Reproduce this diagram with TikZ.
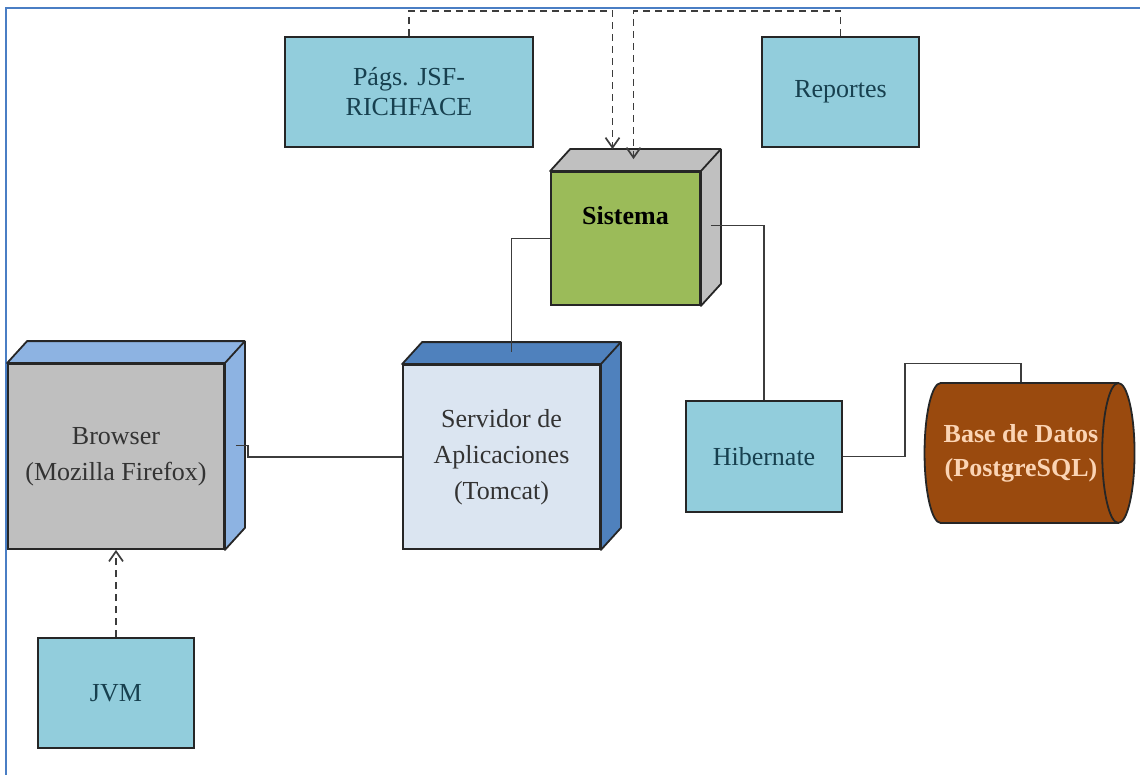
\documentclass[tikz,border=0pt]{standalone}
\usepackage{fontspec}
\setmainfont{Liberation Serif}
\usetikzlibrary{shapes.geometric,arrows.meta}

\definecolor{celeste}{HTML}{92CDDC}
\definecolor{textoceleste}{HTML}{17404F}
\definecolor{grisnav}{HTML}{BFBFBF}
\definecolor{azulnav}{HTML}{8DB3E2}
\definecolor{frenteserv}{HTML}{DBE5F1}
\definecolor{azulserv}{HTML}{4F81BD}
\definecolor{verdesis}{HTML}{9BBB59}
\definecolor{grissis}{HTML}{C0C0C0}
\definecolor{marronbd}{HTML}{9A4A0E}
\definecolor{textobd}{HTML}{FBD4B4}
\definecolor{borde}{HTML}{262626}
\definecolor{azulmarco}{HTML}{4A7EC4}

\begin{document}
\begin{tikzpicture}[x=0.5pt,y=-0.5pt,
        >={Straight Barb[length=5pt,width=7pt]},
        caja/.style={draw=borde,line width=0.9pt,fill=celeste,text=textoceleste,
            font=\fontsize{13}{15}\selectfont,align=center,inner sep=0pt},
        frente/.style={draw=borde,line width=0.9pt,font=\fontsize{13}{15}\selectfont,
            align=center,inner sep=0pt},
        linea/.style={borde!90,line width=0.85pt},
        dep/.style={linea,dash pattern=on 3.5pt off 2.5pt,->}]
        \useasboundingbox (0,0) rectangle (1140,775);
        % Marco
        \draw[azulmarco,line width=1.2pt] (6,775) -- (6,8) -- (1140,8);
        \coordinate (arriba) at (0,11);
        % Cajas simples
        \node[caja,minimum width=124pt,minimum height=55pt] (pags) at (409,92) {Págs. JSF-\\RICHFACE};
        \node[caja,minimum width=78.5pt,minimum height=55pt] (rep) at (840.5,92) {Reportes};
        \node[caja,minimum width=78pt,minimum height=55.5pt] (hib) at (764,456.5) {Hibernate};
        \node[caja,minimum width=78pt,minimum height=55pt] (jvm) at (116,693) {JVM};
        % Nodos 3D
        \node[frente,fill=verdesis,font=\fontsize{13}{15}\selectfont\bfseries,
            minimum width=74.5pt,minimum height=66.5pt,text depth=23pt] (sis) at (625.5,238.5) {Sistema};
        \node[frente,fill=grisnav,text=black!80,minimum width=108pt,minimum height=92.5pt]
            (nav) at (116,456.5) {Browser\\[3pt](Mozilla Firefox)};
        \node[frente,fill=frenteserv,text=black!80,minimum width=98.5pt,minimum height=92pt]
            (serv) at (501.5,457) {Servidor de\\[3pt]Aplicaciones\\[3pt](Tomcat)};
        \foreach \n/\c in {sis/grissis,nav/azulnav,serv/azulserv}{
            \draw[borde,line width=0.9pt,fill=\c,line join=round] (\n.north west) -- ++(20,-22)
                -- ([shift={(20,-22)}]\n.north east) -- ([shift={(20,-22)}]\n.south east)
                -- (\n.south east) -- (\n.north east) -- cycle;
            \draw[borde,line width=0.9pt] (\n.north east) -- ++(20,-22);
        }
        % Base de datos
        \node[cylinder,draw=borde,line width=0.9pt,fill=marronbd,text=textobd,
            font=\fontsize{13}{15}\selectfont\bfseries,align=center,inner sep=0pt,
            minimum width=70pt,minimum height=105pt,aspect=0.56] (bd) at (1021,453)
            {Base de Datos\\[2pt](PostgreSQL)};
        % Conexiones
        \draw[dep] (pags.north) -- (pags.north |- arriba) -| ([shift={(-13,-22)}]sis.north);
        \draw[dep] (rep.north) -- (rep.north |- arriba) -| ([shift={(8,-12)}]sis.north);
        \draw[linea] (sis.west) -| ([shift={(10,-12)}]serv.north);
        \draw[linea] ([shift={(10,-13)}]sis.east) -| (hib.north);
        \draw[linea] (hib.east) -| ++(62,-93) -| (bd.north);
        \draw[linea] ([shift={(11,-11)}]nav.east) -- ++(12,0) |- (serv.west);
        \draw[dep] (jvm.north) -- (nav.south);
\end{tikzpicture}
\end{document}
